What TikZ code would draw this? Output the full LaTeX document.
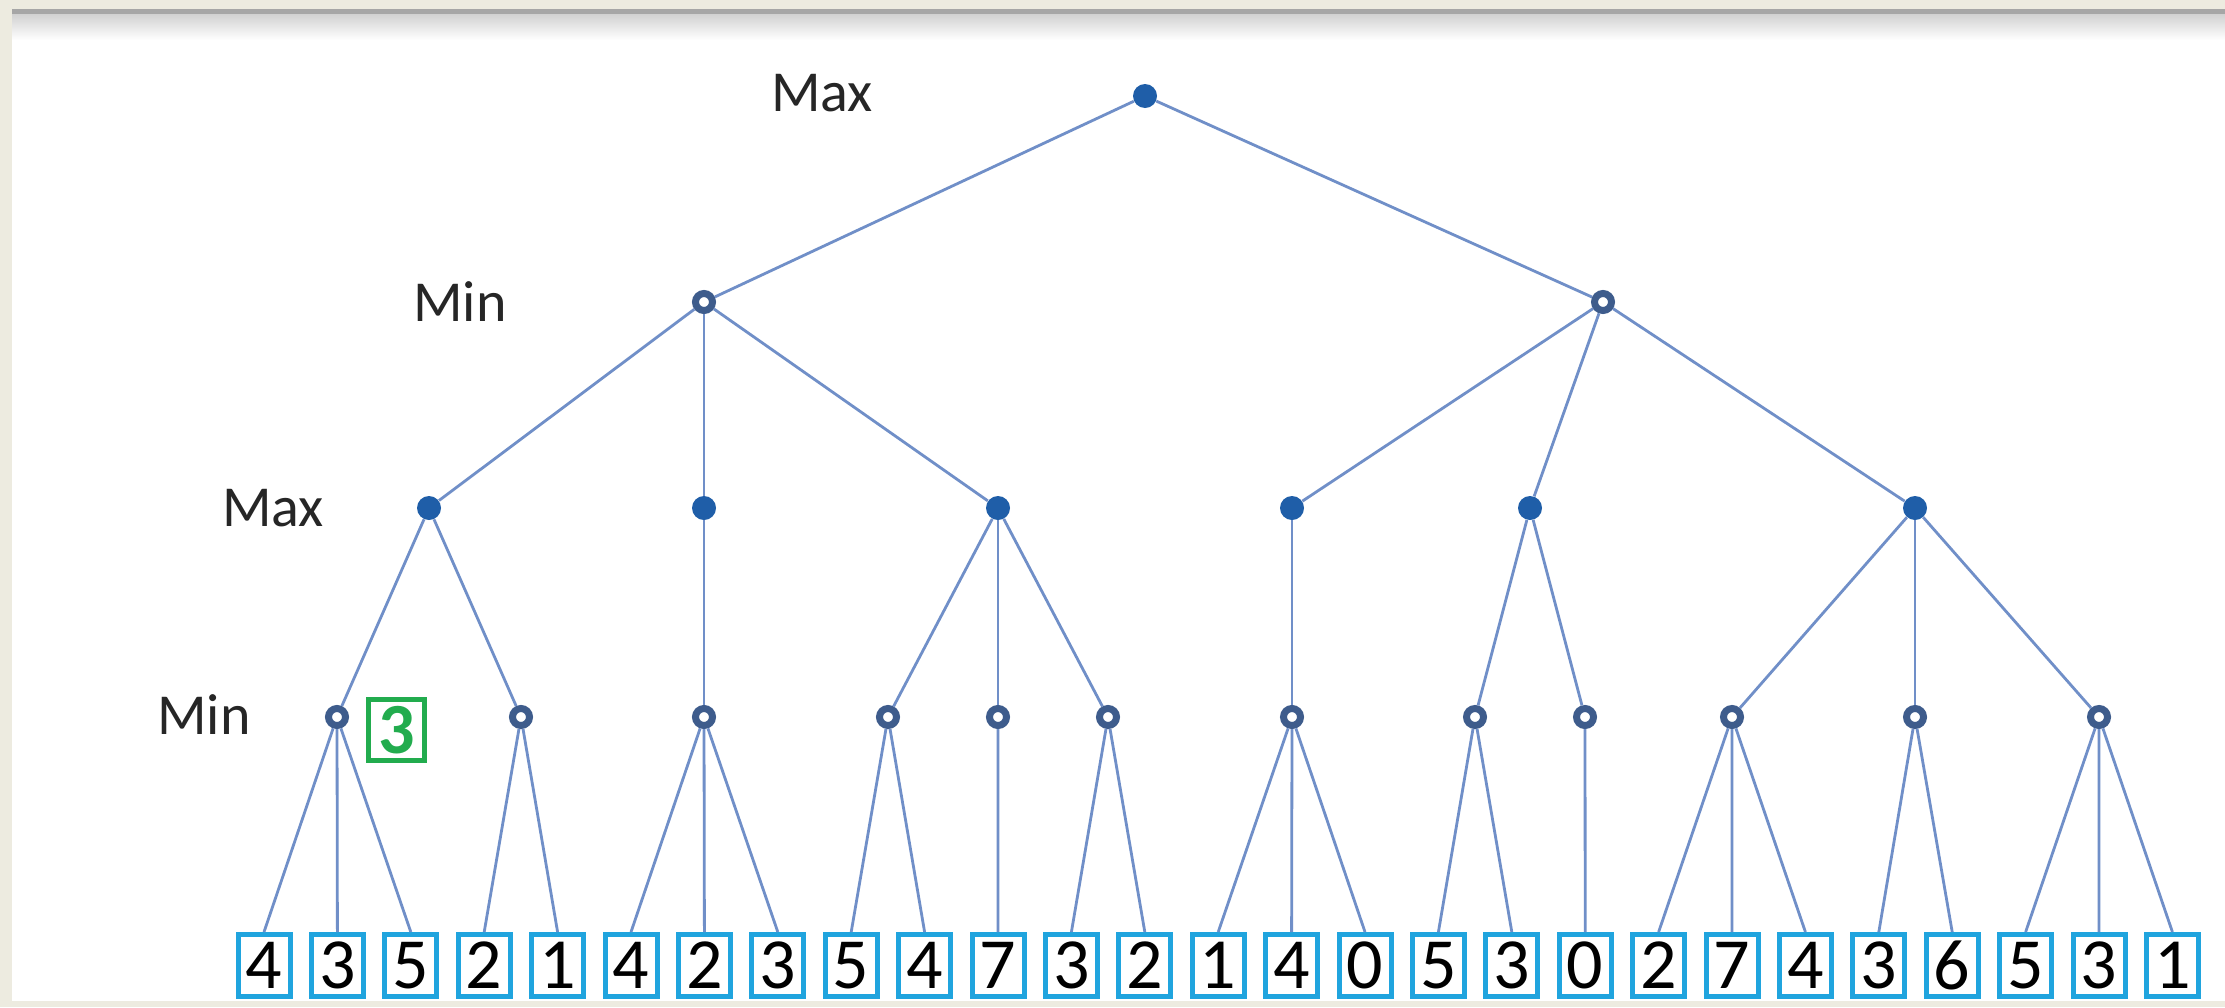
\documentclass[tikz,border=0pt]{standalone}
\usepackage{fontspec}
\setmainfont{Carlito}
\definecolor{framebeige}{RGB}{237,235,224}
\definecolor{edgeblue}{RGB}{112,143,200}
\definecolor{maxblue}{RGB}{31,94,168}
\definecolor{minblue}{RGB}{62,92,140}
\definecolor{leafblue}{RGB}{32,164,222}
\definecolor{valgreen}{RGB}{34,172,78}
\tikzset{
  maxnode/.style={circle,fill=maxblue,draw=none,inner sep=0pt,minimum size=12pt},
  minnode/.style={circle,fill=white,draw=minblue,line width=3.5pt,inner sep=0pt,minimum size=8.5pt},
  leafbox/.style={rectangle,draw=leafblue,line width=2.5pt,fill=white,inner sep=0pt,
    minimum width=26pt,minimum height=31pt,font=\fontsize{36}{40}\selectfont},
  valbox/.style={rectangle,draw=valgreen,line width=2.5pt,inner sep=0pt,text=valgreen,
    minimum width=28pt,minimum height=30.5pt,font=\fontsize{36}{40}\selectfont\bfseries},
  levellabel/.style={inner sep=0pt,font=\fontsize{29}{32}\selectfont,text=black!85},
  conn/.style={draw=edgeblue,line width=1.4pt}
}
\begin{document}
\begin{tikzpicture}[x=0.5pt,y=-0.5pt]
\useasboundingbox (0,0) rectangle (2225,1007);
% frame
\fill[framebeige] (0,0) rectangle (2225,1007);
\fill[white] (12,9) rectangle (2225,1001);
\fill[black!35] (12,9) rectangle (2225,14);
\shade[top color=black!18,bottom color=white] (12,14) rectangle (2225,40);
% level labels
\node[levellabel] (lab1) at (822,93) {Max};
\node[levellabel] (lab2) at (460,302) {Min};
\node[levellabel] (lab3) at (273,508) {Max};
\node[levellabel] (lab4) at (204,715) {Min};
% tree nodes
\node[maxnode] (root) at (1145,96) {};
\node[minnode] (mL) at (704,302) {};
\node[minnode] (mR) at (1603,302) {};
\node[maxnode] (x1) at (429,508) {};
\node[maxnode] (x2) at (704,508) {};
\node[maxnode] (x3) at (998,508) {};
\node[maxnode] (x4) at (1292,508) {};
\node[maxnode] (x5) at (1530,508) {};
\node[maxnode] (x6) at (1915,508) {};
\foreach \xx [count=\i] in {337,521,704,888,998,1108,1292,1475,1585,1732,1915,2099}
  \node[minnode] (n\i) at (\xx,717) {};
% leaves
\foreach \v [count=\i from 0] in {4,3,5,2,1,4,2,3,5,4,7,3,2,1,4,0,5,3,0,2,7,4,3,6,5,3,1}
  \node[leafbox] (l\i) at ({264+73.4*\i},965.5) {\v};
% value box
\node[valbox] (val) at (396.5,730) {3};
% connectors
\foreach \a/\b in {root/mL,root/mR,mL/x1,mL/x2,mL/x3,mR/x4,mR/x5,mR/x6,
  x1/n1,x1/n2,x2/n3,x3/n4,x3/n5,x3/n6,x4/n7,x5/n8,x5/n9,x6/n10,x6/n11,x6/n12}
  \draw[conn] (\a) -- (\b);
\foreach \a/\b in {n1/l0,n1/l1,n1/l2,n2/l3,n2/l4,n3/l5,n3/l6,n3/l7,n4/l8,n4/l9,
  n5/l10,n6/l11,n6/l12,n7/l13,n7/l14,n7/l15,n8/l16,n8/l17,n9/l18,
  n10/l19,n10/l20,n10/l21,n11/l22,n11/l23,n12/l24,n12/l25,n12/l26}
  \draw[conn] (\a) -- (\b.north);
\end{tikzpicture}
\end{document}
